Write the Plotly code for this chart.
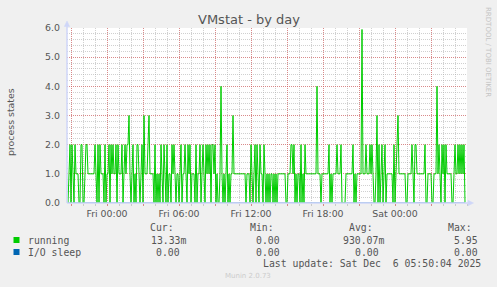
import pandas as pd
import plotly.graph_objects as go

# ---------------- data ----------------
start_time = "2025-12-04 20:40"   # first 5-minute sample
range_end = "2025-12-06 06:00"

running = [
    0, 0, 1, 2, 0, 2, 1, 0, 2, 1, 1, 1, 0, 0, 2, 2, 0, 0, 1, 2,
    2, 1, 1, 1, 1, 1, 1, 1, 2, 1, 0, 2, 0, 2, 1, 1, 1, 0, 2, 0,
    1, 1, 2, 0, 2, 1, 2, 1, 1, 2, 0, 2, 1, 1, 1, 2, 0, 1, 2, 1,
    2, 2, 3, 1, 0, 1, 2, 0, 1, 0, 2, 2, 1, 0, 1, 2, 0, 3, 1, 1,
    1, 2, 3, 1, 1, 1, 1, 0, 2, 0, 1, 0, 1, 0, 2, 1, 0, 2, 1, 0,
    2, 0, 1, 1, 0, 2, 1, 2, 1, 0, 1, 1, 0, 1, 2, 0, 1, 1, 2, 1,
    0, 2, 1, 2, 0, 1, 1, 1, 0, 2, 0, 1, 1, 2, 0, 1, 2, 1, 0, 2,
    1, 2, 1, 2, 0, 2, 2, 1, 2, 0, 1, 0, 0, 1, 4, 1, 0, 1, 0, 1,
    2, 0, 1, 0, 1, 1, 3, 1, 1, 1, 1, 1, 1, 1, 1, 1, 1, 1, 1, 0,
    1, 1, 1, 0, 2, 1, 0, 1, 2, 0, 2, 1, 0, 2, 1, 1, 0, 2, 1, 0,
    1, 0, 1, 0, 1, 1, 0, 1, 0, 1, 0, 1, 1, 1, 1, 1, 1, 1, 1, 0,
    0, 1, 1, 1, 2, 2, 1, 2, 0, 1, 0, 1, 1, 0, 2, 0, 1, 0, 2, 1,
    1, 1, 1, 1, 1, 1, 1, 1, 1, 1, 4, 1, 1, 1, 0, 1, 1, 1, 1, 1,
    1, 1, 2, 0, 1, 0, 1, 1, 1, 1, 2, 1, 1, 1, 2, 0, 0, 0, 0, 1,
    1, 1, 1, 1, 1, 1, 2, 0, 1, 0, 1, 1, 1, 1, 1, 5.95, 1, 1, 1, 2,
    1, 1, 1, 2, 1, 2, 1, 0, 0, 1, 3, 0, 2, 0, 1, 2, 0, 1, 2, 0,
    1, 1, 1, 1, 1, 1, 0, 2, 0, 1, 2, 3, 1, 1, 1, 1, 1, 1, 1, 0,
    0, 1, 1, 1, 1, 2, 1, 0, 2, 2, 1, 1, 1, 1, 1, 1, 1, 1, 2, 0,
    0, 1, 1, 1, 1, 0, 0, 1, 1, 1, 4, 1, 2, 1, 0, 2, 1, 2, 0, 2,
    1, 1, 1, 1, 1, 0, 0, 1, 2, 1, 1, 2, 1, 2, 1, 2, 1, 2, 0.0133,
]

io_sleep = [
    0, 0, 0, 0, 0, 0, 0, 0, 0, 0, 0, 0, 0, 0, 0, 0, 0, 0, 0, 0,
    0, 0, 0, 0, 0, 0, 0, 0, 0, 0, 0, 0, 0, 0, 0, 0, 0, 0, 0, 0,
    0, 0, 0, 0, 0, 0, 0, 0, 0, 0, 0, 0, 0, 0, 0, 0, 0, 0, 0, 0,
    0, 0, 0, 0, 0, 0, 0, 0, 0, 0, 0, 0, 0, 0, 0, 0, 0, 0, 0, 0,
    0, 0, 0, 0, 0, 0, 0, 0, 0, 0, 0, 0, 0, 0, 0, 0, 0, 0, 0, 0,
    0, 0, 0, 0, 0, 0, 0, 0, 0, 0, 0, 0, 0, 0, 0, 0, 0, 0, 0, 0,
    0, 0, 0, 0, 0, 0, 0, 0, 0, 0, 0, 0, 0, 0, 0, 0, 0, 0, 0, 0,
    0, 0, 0, 0, 0, 0, 0, 0, 0, 0, 0, 0, 0, 0, 0, 0, 0, 0, 0, 0,
    0, 0, 0, 0, 0, 0, 0, 0, 0, 0, 0, 0, 0, 0, 0, 0, 0, 0, 0, 0,
    0, 0, 0, 0, 0, 0, 0, 0, 0, 0, 0, 0, 0, 0, 0, 0, 0, 0, 0, 0,
    0, 0, 0, 0, 0, 0, 0, 0, 0, 0, 0, 0, 0, 0, 0, 0, 0, 0, 0, 0,
    0, 0, 0, 0, 0, 0, 0, 0, 0, 0, 0, 0, 0, 0, 0, 0, 0, 0, 0, 0,
    0, 0, 0, 0, 0, 0, 0, 0, 0, 0, 0, 0, 0, 0, 0, 0, 0, 0, 0, 0,
    0, 0, 0, 0, 0, 0, 0, 0, 0, 0, 0, 0, 0, 0, 0, 0, 0, 0, 0, 0,
    0, 0, 0, 0, 0, 0, 0, 0, 0, 0, 0, 0, 0, 0, 0, 0, 0, 0, 0, 0,
    0, 0, 0, 0, 0, 0, 0, 0, 0, 0, 0, 0, 0, 0, 0, 0, 0, 0, 0, 0,
    0, 0, 0, 0, 0, 0, 0, 0, 0, 0, 0, 0, 0, 0, 0, 0, 0, 0, 0, 0,
    0, 0, 0, 0, 0, 0, 0, 0, 0, 0, 0, 0, 0, 0, 0, 0, 0, 0, 0, 0,
    0, 0, 0, 0, 0, 0, 0, 0, 0, 0, 0, 0, 0, 0, 0, 0, 0, 0, 0, 0,
    0, 0, 0, 0, 0, 0, 0, 0, 0, 0, 0, 0, 0, 0, 0, 0, 0, 0, 0,
]

series_names = ["running", "I/O sleep"]
series_colors = ["#00CC00", "#0066B3"]

x_tick_times = ["2025-12-04 21:00", "2025-12-05 00:00", "2025-12-05 03:00",
                "2025-12-05 06:00", "2025-12-05 09:00", "2025-12-05 12:00",
                "2025-12-05 15:00", "2025-12-05 18:00", "2025-12-05 21:00",
                "2025-12-06 00:00", "2025-12-06 03:00"]
x_tick_labels = ["", "Fri 00:00", "", "Fri 06:00", "", "Fri 12:00", "",
                 "Fri 18:00", "", "Sat 00:00", ""]
y_tick_vals = [0, 1, 2, 3, 4, 5, 6]
y_tick_labels = ["0.0", "1.0", "2.0", "3.0", "4.0", "5.0", "6.0"]

stat_headers = ["Cur:", "Min:", "Avg:", "Max:"]
stats_running = ["13.33m", "0.00", "930.07m", "5.95"]
stats_iosleep = ["0.00", "0.00", "0.00", "0.00"]
title_text = "VMstat - by day"
y_title = "process states"
last_update = "Last update: Sat Dec  6 05:50:04 2025"
version_text = "Munin 2.0.73"
side_text = "RRDTOOL / TOBI OETIKER"

# ---------------- figure ----------------
W, H = 497, 287
L, R, T, B = 67, 30, 28, 84
PW, PH = W - L - R, H - T - B


def xp(px):
    return (px - L) / PW


def yp(py):
    return (H - B - py) / PH


times = pd.date_range(start=start_time, periods=len(running), freq="5min")

fig = go.Figure()
fig.add_trace(go.Scatter(x=times, y=io_sleep, mode="lines", name=series_names[1],
                         line=dict(color=series_colors[1], width=1)))
fig.add_trace(go.Scatter(x=times, y=running, mode="lines", name=series_names[0],
                         line=dict(color=series_colors[0], width=1)))

TXT = "#555555"
MAJ = "rgba(224,80,80,0.55)"
MIN = "rgba(170,170,170,0.55)"
AX = "#CFD6F8"

fig.update_layout(
    width=W, height=H, margin=dict(l=L, r=R, t=T, b=B, autoexpand=False),
    paper_bgcolor="#F0F0F0", plot_bgcolor="#FFFFFF", showlegend=False,
    font=dict(family="DejaVu Sans", size=9.4, color=TXT),
)
fig.update_xaxes(
    range=[start_time, range_end], tickmode="array", automargin=False,
    tickvals=x_tick_times, ticktext=x_tick_labels,
    showgrid=True, gridcolor=MAJ, griddash="1px,1px", gridwidth=1,
    ticks="outside", ticklen=2, tickcolor=MAJ,
    minor=dict(dtick=3600000, tick0="2025-12-04 21:00", showgrid=True,
               gridcolor=MIN, griddash="1px,1px", gridwidth=1,
               ticks="outside", ticklen=2, tickcolor=MIN),
    showline=False, zeroline=False,
    tickfont=dict(family="DejaVu Sans", size=9.4, color=TXT),
)
fig.update_yaxes(
    range=[0, 6], tickmode="array", tickvals=y_tick_vals, ticktext=y_tick_labels,
    automargin=False,
    showgrid=True, gridcolor=MAJ, griddash="1px,1px", gridwidth=1,
    minor=dict(dtick=0.2, tick0=0, showgrid=True, gridcolor=MIN,
               griddash="1px,1px", gridwidth=1),
    showline=False, zeroline=False, ticks="", ticklabelstandoff=6,
    tickfont=dict(family="DejaVu Sans", size=9.4, color=TXT),
)

shapes = []
# axes with arrows
shapes.append(dict(type="line", xref="paper", yref="paper", x0=xp(67), x1=xp(67),
                   y0=yp(203), y1=yp(26), line=dict(color=AX, width=1.5), layer="above"))
shapes.append(dict(type="line", xref="paper", yref="paper", x0=xp(67), x1=xp(468),
                   y0=yp(203), y1=yp(203), line=dict(color=AX, width=1.5), layer="above"))
shapes.append(dict(type="path", xref="paper", yref="paper",
                   path=f"M {xp(64.3)},{yp(26.5)} L {xp(69.7)},{yp(26.5)} L {xp(67)},{yp(21)} Z",
                   fillcolor=AX, line=dict(color=AX, width=0.5), layer="above"))
shapes.append(dict(type="path", xref="paper", yref="paper",
                   path=f"M {xp(468)},{yp(200.3)} L {xp(468)},{yp(205.7)} L {xp(473.5)},{yp(203)} Z",
                   fillcolor=AX, line=dict(color=AX, width=0.5), layer="above"))
# legend boxes
for color, py in zip(series_colors, [240, 252]):
    shapes.append(dict(type="rect", xref="paper", yref="paper",
                       x0=xp(13.5), x1=xp(19.5), y0=yp(py - 3), y1=yp(py + 3),
                       fillcolor=color, line=dict(width=0)))
fig.update_layout(shapes=shapes)

ann = []


def text(s, px, py, size=9.8, family="DejaVu Sans Mono", color=TXT, xanchor="left", angle=0):
    ann.append(dict(text=s, x=xp(px), y=yp(py), xref="paper", yref="paper",
                    showarrow=False, xanchor=xanchor, yanchor="middle",
                    textangle=angle, borderpad=0,
                    font=dict(family=family, size=size, color=color)))


text(title_text, 248.5, 19.5, size=13, family="DejaVu Sans", color="#555555", xanchor="center")
text(y_title, 10, 122, size=9.4, family="DejaVu Sans", xanchor="center", angle=-90)
text(side_text, 488, 52, size=7, family="DejaVu Sans", color="#C4C4C4", xanchor="center", angle=90)

for s, px in zip(stat_headers, [149, 249, 348, 447]):
    text(s, px, 227.5)
text(series_names[0], 26.7, 240)
for s, px in zip(stats_running, [149.7, 255, 342, 453]):
    text(s, px, 240)
text(series_names[1], 26.7, 252)
for s, px in zip(stats_iosleep, [155, 255, 354, 453]):
    text(s, px, 252)
text(last_update, 482, 263.5, xanchor="right")
text(version_text, 247.5, 276, size=7, family="DejaVu Sans", color="#CCCCCC", xanchor="center")

fig.update_layout(annotations=ann)
fig.write_html("out.html")
